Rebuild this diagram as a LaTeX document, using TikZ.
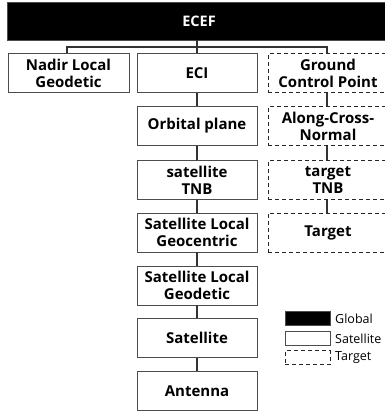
\documentclass[tikz,border=0pt]{standalone}
\usepackage{fontspec}
\setmainfont{Open Sans}
\begin{document}
\begin{tikzpicture}[x=1pt,y=-1pt,
  box/.style={draw=black!70, line width=0.8pt, minimum width=120pt, minimum height=39pt,
    inner sep=0pt, align=center, font=\bfseries\fontsize{15}{17}\selectfont},
  satbox/.style={box, fill=white},
  tgtbox/.style={box, draw=black!85, line width=0.9pt, dash pattern=on 4pt off 3pt},
  link/.style={draw=black!80, line width=1.3pt},
  legbox/.style={draw=black!70, line width=0.8pt, minimum width=45pt, minimum height=14pt, inner sep=0pt},
  legtext/.style={anchor=west, inner sep=0pt, font=\fontsize{12.5}{14}\selectfont}
]
\useasboundingbox (0,0) rectangle (385,413);
\clip (0,0) rectangle (385,413);

% global frame
\node[box, fill=black, text=white, minimum width=384pt, minimum height=38pt, font=\bfseries\fontsize{14.5}{16}\selectfont] (ecef) at (199,21) {ECEF};

% first row
\node[satbox, minimum width=121pt] (nadir) at (68.5,73) {Nadir Local\\Geodetic};
\node[satbox] (eci) at (197,73) {ECI};
\node[tgtbox] (gcp) at (328,73) {Ground\\Control Point};

% satellite chain
\node[satbox] (orb) at (197,126) {Orbital plane};
\node[satbox] (stnb) at (197,180) {satellite\\TNB};
\node[satbox] (slgc) at (197,232.5) {Satellite Local\\Geocentric};
\node[satbox] (slgd) at (197,285.5) {Satellite Local\\Geodetic};
\node[satbox] (sat) at (197,338) {Satellite};
\node[satbox] (ant) at (197,391) {Antenna};

% target chain
\node[tgtbox] (acn) at (328,126) {Along-Cross-\\Normal};
\node[tgtbox] (ttnb) at (328,180) {target\\TNB};
\node[tgtbox] (tgt) at (328,232.5) {Target};

% tree from the global frame
\coordinate (split) at (197,47);
\draw[link] (ecef.south -| split) -- (split);
\draw[link] (nadir.north -| 67,0) |- (split) -| (gcp.north -| 327,0);
\draw[link] (split) -- (eci.north);

\draw[link] (eci) -- (orb);
\draw[link] (orb) -- (stnb);
\draw[link] (stnb) -- (slgc);
\draw[link] (slgc) -- (slgd);
\draw[link] (slgd) -- (sat);
\draw[link] (sat) -- (ant);

\draw[link] (gcp.south -| 327,0) -- (acn.north -| 327,0);
\draw[link] (acn.south -| 327,0) -- (ttnb.north -| 327,0);
\draw[link] (ttnb.south -| 327,0) -- (tgt.north -| 327,0);

% legend
\node[legbox, fill=black] (lg) at (307.5,318.5) {};
\node[legbox, fill=white] (ls) at (307.5,338.5) {};
\node[legbox, draw=black!85, line width=0.9pt, dash pattern=on 4pt off 3pt] (lt) at (307.5,357.5) {};
\node[legtext] (lgt) at (335,318.5) {Global};
\node[legtext] (lst) at (335,338.5) {Satellite};
\node[legtext] (ltt) at (335,357.5) {Target};
\end{tikzpicture}
\end{document}
